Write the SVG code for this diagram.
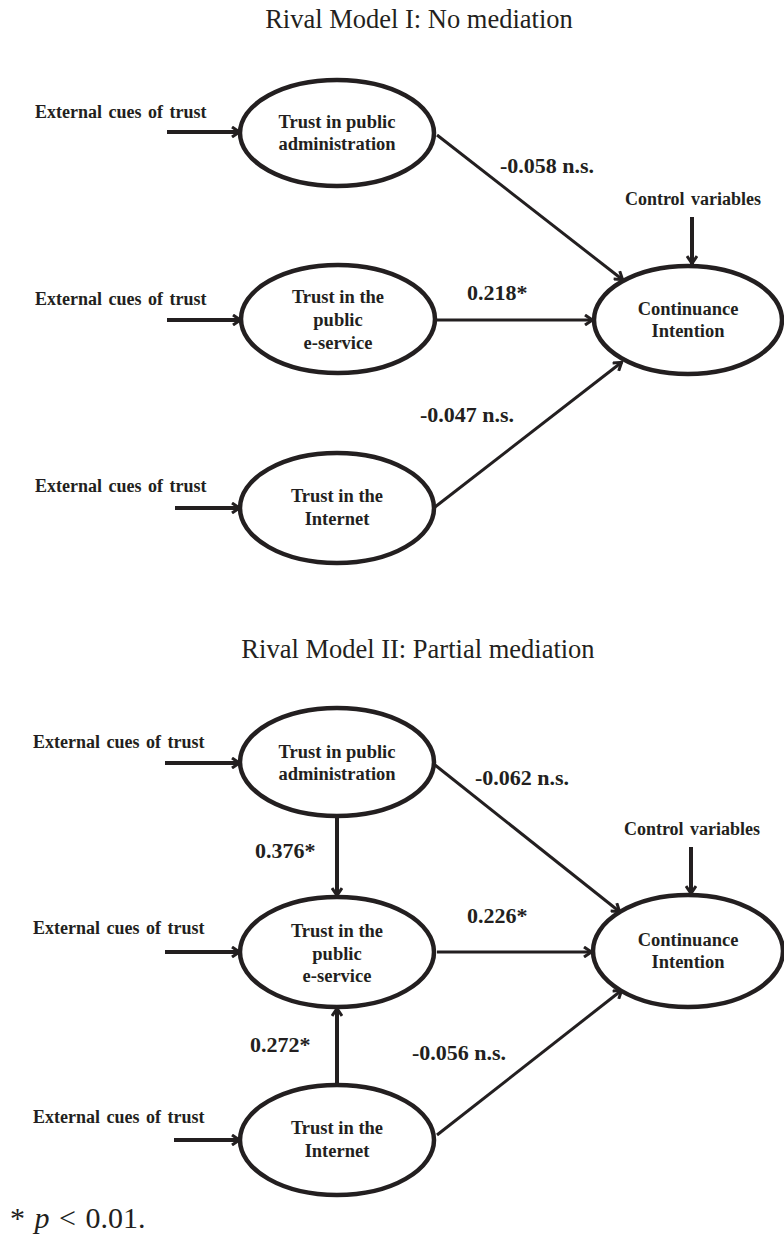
<svg xmlns="http://www.w3.org/2000/svg" width="784" height="1234" viewBox="0 0 784 1234">
<style>
.title{font-family:"Liberation Serif",serif;font-size:26.5px;fill:#231f20;text-anchor:middle}
.node{font-family:"Liberation Serif",serif;font-size:18.5px;font-weight:bold;fill:#231f20;text-anchor:middle}
.ext{font-family:"Liberation Serif",serif;font-size:18px;font-weight:bold;fill:#231f20;word-spacing:2px}
.lbl{font-family:"Liberation Serif",serif;font-size:22px;font-weight:bold;fill:#231f20}
.foot{font-family:"Liberation Serif",serif;font-size:30px;fill:#231f20;word-spacing:2px}
ellipse{fill:#fff;stroke:#231f20;stroke-width:4.5}
.arr{stroke:#231f20;stroke-width:3;fill:none;marker-end:url(#ah)}
.arrT{stroke:#231f20;stroke-width:4;fill:none;marker-end:url(#ah)}
</style>
<defs>
<marker id="ah" viewBox="0 0 12 12" markerWidth="12" markerHeight="12" refX="11" refY="6" orient="auto" markerUnits="userSpaceOnUse">
<path d="M3,1 L10.5,6 L3,11" fill="none" stroke="#231f20" stroke-width="3"/>
</marker>
</defs>
<rect width="784" height="1234" fill="#fff"/>
<text class="title" x="419" y="28">Rival Model I: No mediation</text>
<text class="title" x="418" y="658">Rival Model II: Partial mediation</text>

<g id="connectors">
<line class="arrT" x1="167" y1="132" x2="240" y2="132"/>
<line class="arrT" x1="167" y1="320" x2="241" y2="320"/>
<line class="arrT" x1="175" y1="508" x2="240" y2="508"/>
<line class="arr" x1="437" y1="135" x2="623" y2="280"/>
<line class="arr" x1="437" y1="320" x2="593" y2="320"/>
<line class="arr" x1="435" y1="507" x2="622" y2="362"/>
<line class="arrT" x1="692" y1="217" x2="692" y2="264"/>

<line class="arrT" x1="165" y1="763" x2="240" y2="763"/>
<line class="arrT" x1="165" y1="952" x2="240" y2="952"/>
<line class="arrT" x1="174" y1="1140" x2="240" y2="1140"/>
<line class="arrT" x1="337" y1="817" x2="337" y2="896"/>
<line class="arrT" x1="337" y1="1085" x2="337" y2="1008"/>
<line class="arr" x1="435" y1="765" x2="620" y2="912"/>
<line class="arr" x1="437" y1="952" x2="592" y2="952"/>
<line class="arr" x1="437" y1="1135" x2="622" y2="990"/>
<line class="arrT" x1="691" y1="847" x2="691" y2="894"/>

<text class="lbl" x="500" y="173">-0.058 n.s.</text>
<text class="lbl" x="467" y="300">0.218*</text>
<text class="lbl" x="420" y="422">-0.047 n.s.</text>
<text class="lbl" x="475" y="785">-0.062 n.s.</text>
<text class="lbl" x="255" y="858">0.376*</text>
<text class="lbl" x="467" y="923">0.226*</text>
<text class="lbl" x="250" y="1052">0.272*</text>
<text class="lbl" x="412" y="1060">-0.056 n.s.</text>
</g>

<g id="m1-ext1"><text class="ext" x="35" y="118">External cues of trust</text></g>
<g id="m1-ext2"><text class="ext" x="35" y="305">External cues of trust</text></g>
<g id="m1-ext3"><text class="ext" x="35" y="492">External cues of trust</text></g>
<g id="m1-ctrl"><text class="ext" x="693" y="205" text-anchor="middle">Control variables</text></g>

<g id="m1-tpa">
<ellipse cx="337" cy="133" rx="97" ry="53"/>
<text class="node" x="337" y="128">Trust in public</text>
<text class="node" x="337" y="150">administration</text>
</g>
<g id="m1-tes">
<ellipse cx="338" cy="319" rx="97" ry="54"/>
<text class="node" x="338" y="303">Trust in the</text>
<text class="node" x="338" y="326">public</text>
<text class="node" x="338" y="349">e-service</text>
</g>
<g id="m1-tin">
<ellipse cx="337" cy="508" rx="97" ry="55"/>
<text class="node" x="337" y="502">Trust in the</text>
<text class="node" x="337" y="525">Internet</text>
</g>
<g id="m1-ci">
<ellipse cx="688" cy="320" rx="94" ry="54"/>
<text class="node" x="688" y="315">Continuance</text>
<text class="node" x="688" y="337">Intention</text>
</g>

<g id="m2-ext1"><text class="ext" x="33" y="748">External cues of trust</text></g>
<g id="m2-ext2"><text class="ext" x="33" y="934">External cues of trust</text></g>
<g id="m2-ext3"><text class="ext" x="33" y="1123">External cues of trust</text></g>
<g id="m2-ctrl"><text class="ext" x="692" y="835" text-anchor="middle">Control variables</text></g>

<g id="m2-tpa">
<ellipse cx="337" cy="762" rx="97" ry="54"/>
<text class="node" x="337" y="758">Trust in public</text>
<text class="node" x="337" y="780">administration</text>
</g>
<g id="m2-tes">
<ellipse cx="337" cy="952" rx="97" ry="55"/>
<text class="node" x="337" y="937">Trust in the</text>
<text class="node" x="337" y="960">public</text>
<text class="node" x="337" y="982">e-service</text>
</g>
<g id="m2-tin">
<ellipse cx="337" cy="1140" rx="97" ry="55"/>
<text class="node" x="337" y="1134">Trust in the</text>
<text class="node" x="337" y="1157">Internet</text>
</g>
<g id="m2-ci">
<ellipse cx="688" cy="951" rx="95" ry="56"/>
<text class="node" x="688" y="946">Continuance</text>
<text class="node" x="688" y="968">Intention</text>
</g>

<text class="foot" x="10" y="1228">* <tspan font-style="italic">p</tspan> &lt; 0.01.</text>
</svg>
